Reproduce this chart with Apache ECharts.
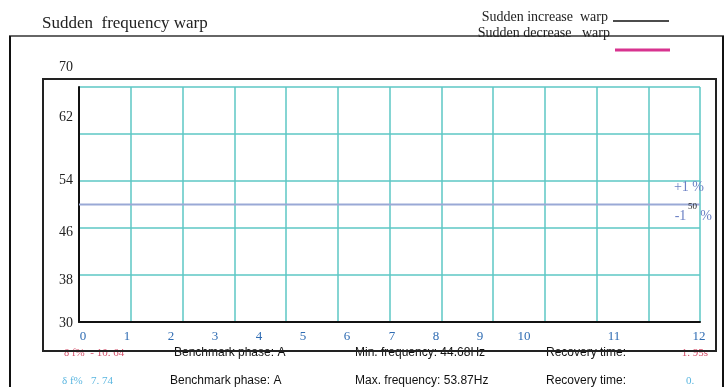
<!DOCTYPE html>
<html>
<head>
<meta charset="utf-8">
<script src="https://cdn.jsdelivr.net/npm/echarts@6/dist/echarts.min.js"></script>
<style>html,body{margin:0;padding:0;background:#fff;}#c{width:728px;height:387px;}</style>
</head>
<body>
<div id="c"></div>
<script>
// ---- data ----
const xMin = 0, xMax = 12, xStep = 1;
const yMin = 30, yMax = 70, yStep = 8;
const baselineX = [0, 12];
const baselineY = [50, 50];
const baselineLabel = '50';
const tolUpLabel = '+1 %';
const tolDownLabel = '-1    %';
const seriesNames = ['Sudden increase warp', 'Sudden decrease warp'];
const increaseData = [];
const decreaseData = [];
const row1 = ['δ f%  - 10. 64', 'Benchmark phase: A', 'Min. frequency: 44.68Hz', 'Recovery time:', '1. 95s'];
const row2 = ['δ f%   7. 74', 'Benchmark phase: A', 'Max. frequency: 53.87Hz', 'Recovery time:', '0.'];

// ---- styles ----
const serif = '"Liberation Serif", "DejaVu Serif", serif';
const sans = '"Liberation Sans", Arial, sans-serif';
const teal = '#5cc7c4';
const red = '#d4506a';
const lightBlue = '#5ab6e0';
// label offsets (pixels) to mimic the reference's label placement
const xShift = [4, -3.75, -11.5, -19.25, -27, -34.75, -42.5, -49.25, -57, -64.75, -72.5, -34.25, -1];
const yShift = {70: -20, 62: -17, 54: -1, 46: 4, 38: 5, 30: 1};

const xRich = {};
xShift.forEach((d, i) => {
  xRich['s' + i] = {padding: d >= 0 ? [0, 0, 0, 2 * d] : [0, -2 * d, 0, 0], color: '#2f6cb3', fontFamily: serif, fontSize: 13};
});
const yRich = {};
Object.keys(yShift).forEach(k => {
  const d = yShift[k];
  yRich['v' + k] = {padding: d >= 0 ? [2 * d, 0, 0, 0] : [0, 0, -2 * d, 0], color: '#222', fontFamily: serif, fontSize: 14};
});

const chart = echarts.init(document.getElementById('c'), null, {renderer: 'canvas'});
const baseData = baselineX.map((x, i) => [x, baselineY[i]]);

function textEl(x, y, text, color, font, align) {
  return {type: 'text', x: x, y: y, style: {text: text, fill: color, font: font, textAlign: align || 'left', textVerticalAlign: 'middle'}};
}
const graphics = [
  {type: 'rect', shape: {x: 43, y: 79, width: 673, height: 272}, style: {fill: 'none', stroke: '#222', lineWidth: 2}, z: 1},
  {type: 'line', shape: {x1: 9, y1: 36, x2: 724, y2: 36}, style: {stroke: '#666', lineWidth: 2}},
  {type: 'line', shape: {x1: 10, y1: 36, x2: 10, y2: 387}, style: {stroke: '#111', lineWidth: 2}},
  {type: 'line', shape: {x1: 723, y1: 36, x2: 723, y2: 387}, style: {stroke: '#111', lineWidth: 2}}
];
[row1, row2].forEach((row, r) => {
  const y = r === 0 ? 353 : 381;
  const numColor = r === 0 ? red : lightBlue;
  graphics.push(textEl(r === 0 ? 64 : 62, y, row[0], numColor, '11px ' + serif));
  graphics.push(textEl(r === 0 ? 174 : 170, y, row[1], '#111', '12px ' + sans));
  graphics.push(textEl(355, y, row[2], '#111', '12px ' + sans));
  graphics.push(textEl(546, y, row[3], '#111', '12px ' + sans));
  graphics.push(textEl(r === 0 ? 708 : 686, y, row[4], numColor, '11px ' + serif, r === 0 ? 'right' : 'left'));
});

chart.setOption({
  animation: false,
  backgroundColor: '#fff',
  title: {
    text: 'Sudden  frequency warp', left: 42, top: 15, padding: 0,
    textStyle: {fontFamily: serif, fontSize: 17, fontWeight: 'normal', color: '#222'}
  },
  legend: [
    {
      data: [{name: seriesNames[0]}], right: 59, top: 10, align: 'right', icon: 'rect',
      itemWidth: 56, itemHeight: 1.5, padding: 0,
      textStyle: {rich: {a: {fontFamily: serif, fontSize: 14, color: '#222', padding: [0, 0, 8, 0]}}},
      formatter: () => '{a|Sudden increase  warp}'
    },
    {
      data: [{name: seriesNames[1]}], right: 58, top: 26, align: 'right', icon: 'rect',
      itemWidth: 55, itemHeight: 3, padding: 0,
      textStyle: {rich: {a: {fontFamily: serif, fontSize: 14, color: '#222', padding: [0, 0, 34, 0]}}},
      formatter: () => '{a|Sudden decrease   warp}'
    }
  ],
  grid: {left: 79, right: 28, top: 87, bottom: 65, containLabel: false},
  xAxis: {
    type: 'value', min: xMin, max: xMax, interval: xStep,
    axisLine: {show: true, onZero: false, lineStyle: {color: '#111', width: 2}},
    axisTick: {show: false},
    splitLine: {show: true, lineStyle: {color: teal, width: 1.5}},
    axisLabel: {
      margin: 8, showMinLabel: true, showMaxLabel: true,
      formatter: v => '{s' + v + '|' + v + '}', rich: xRich
    }
  },
  yAxis: {
    type: 'value', min: yMin, max: yMax, interval: yStep,
    axisLine: {show: true, onZero: false, lineStyle: {color: '#111', width: 2}},
    axisTick: {show: false},
    splitLine: {show: true, lineStyle: {color: teal, width: 1.5}},
    axisLabel: {
      margin: 6, showMinLabel: true, showMaxLabel: true,
      formatter: v => '{v' + v + '|' + v + '}', rich: yRich
    }
  },
  series: [
    {name: seriesNames[0], type: 'line', data: increaseData, color: '#111', showSymbol: false},
    {name: seriesNames[1], type: 'line', data: decreaseData, color: '#d8338f', showSymbol: false},
    {
      name: 'Baseline', type: 'line', data: baseData, showSymbol: false, color: '#9aa9d6',
      lineStyle: {width: 2, color: '#9aa9d6'}, z: 3,
      markLine: {
        symbol: 'none', silent: true,
        lineStyle: {color: 'rgba(0,0,0,0)', width: 1},
        data: [
          {yAxis: 50, label: {show: true, formatter: tolUpLabel, position: 'insideEndTop', distance: [-4, 10], color: '#6b80c4', fontFamily: serif, fontSize: 14}},
          {yAxis: 50, label: {show: true, formatter: tolDownLabel, position: 'insideEndBottom', distance: [-12, 5], color: '#6b80c4', fontFamily: serif, fontSize: 14}},
          {yAxis: 50, label: {show: true, formatter: baselineLabel, position: 'insideEndBottom', distance: [3, -2], color: '#222', fontFamily: serif, fontSize: 9}}
        ]
      }
    }
  ],
  graphic: graphics
});
</script>
</body>
</html>
